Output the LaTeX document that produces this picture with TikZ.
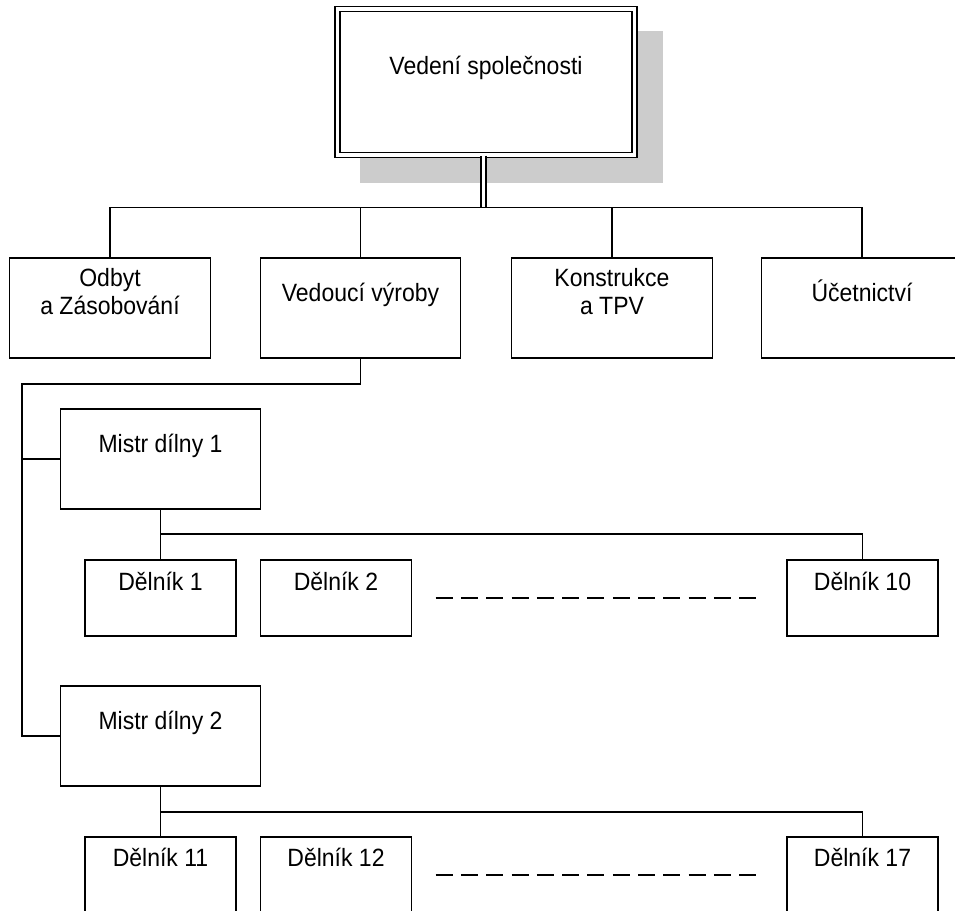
\documentclass[tikz,border=0pt]{standalone}
\usepackage{fontspec}
\setmainfont{Liberation Sans}[FakeStretch=0.92]
\definecolor{shadowgray}{RGB}{204,204,204}
\begin{document}
\begin{tikzpicture}[x=1pt,y=-1pt,
  line width=1.3pt,
  box/.style={draw, fill=white, rectangle, inner sep=0pt, minimum width=200.5pt, minimum height=100pt},
  wbox/.style={box, minimum width=151pt, minimum height=76pt},
  lbl/.style={anchor=base, font=\fontsize{25}{28}\selectfont, align=center, inner sep=0pt},
  dashline/.style={dash pattern=on 17pt off 8.3pt},
  dbl/.style={double, double distance=3.6pt}
]
\useasboundingbox (0,0) rectangle (955,910);
% shadow of the top box
\fill[shadowgray] (360,31) rectangle (663,183);
% top box
\node[box, dbl, minimum width=297pt, minimum height=146pt,
      label={[lbl,yshift=-66pt]north:Vedení společnosti}] (top) at (486,82) {};
% second row
\node[box, label={[lbl,yshift=-57pt]north:Odbyt\\a Zásobování}] (odbyt) at (110,308) {};
\node[box, label={[lbl,yshift=-44pt]north:Vedoucí výroby}] (vedouci) at (360.5,308) {};
\node[box, label={[lbl,yshift=-57pt]north:Konstrukce\\a TPV}] (konstr) at (612,308) {};
\node[box, label={[lbl,yshift=-44pt]north:Účetnictví}] (ucet) at (862,308) {};
% masters
\node[box, label={[lbl,yshift=-44pt]north:Mistr dílny 1}] (m1) at (160.5,459) {};
\node[box, label={[lbl,yshift=-44pt]north:Mistr dílny 2}] (m2) at (160.5,736) {};
% workers
\node[wbox, label={[lbl,yshift=-31pt]north:Dělník 1}] (d1) at (160.5,598) {};
\node[wbox, label={[lbl,yshift=-31pt]north:Dělník 2}] (d2) at (336,598) {};
\node[wbox, label={[lbl,yshift=-31pt]north:Dělník 10}] (d10) at (862.5,598) {};
\node[wbox, label={[lbl,yshift=-30pt]north:Dělník 11}] (d11) at (160.5,875) {};
\node[wbox, label={[lbl,yshift=-30pt]north:Dělník 12}] (d12) at (336,875) {};
\node[wbox, label={[lbl,yshift=-30pt]north:Dělník 17}] (d17) at (862.5,875) {};
% connectors
\coordinate (bus) at (483.5,207.5);
\draw[dbl] (bus |- top.south) -- (bus);
\draw (odbyt.north) |- (bus) -| (ucet.north);
\draw (vedouci.north) -- (vedouci.north |- bus);
\draw (konstr.north) -- (konstr.north |- bus);
\coordinate (spine) at (22,384);
\draw (vedouci.south) |- (spine) |- (m2.west);
\draw (spine |- m1.west) -- (m1.west);
\coordinate (bus1) at (160.5,534);
\draw (m1.south) -- (d1.north);
\draw (bus1) -| (d10.north);
\coordinate (bus2) at (160.5,812);
\draw (m2.south) -- (d11.north);
\draw (bus2) -| (d17.north);
% dashed gaps
\draw[dashline, shorten <=23.5pt, shorten >=29pt] (d2) -- (d10);
\draw[dashline, shorten <=23.5pt, shorten >=29pt] (d12) -- (d17);
\end{tikzpicture}
\end{document}
